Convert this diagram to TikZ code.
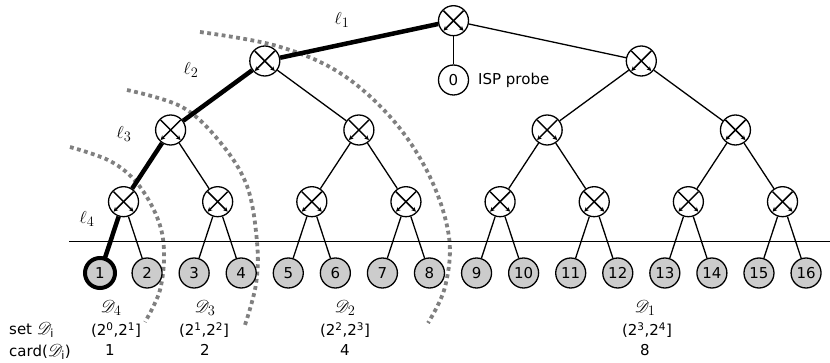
\documentclass[tikz,border=0pt]{standalone}
\usepackage{fontspec}
\usepackage{mathrsfs}
\setmainfont{DejaVu Sans}
\usetikzlibrary{arrows.meta}
\begin{document}
\begin{tikzpicture}[x=1pt,y=-1pt,
  font=\fontsize{15}{18}\selectfont,
  sw/.style={circle,draw,line width=1.3pt,minimum size=30pt,inner sep=0pt,fill=white,
    path picture={
      \draw[line width=1.5pt,-{Stealth[length=4.5pt,width=4.5pt]}]
        ([shift={(-10pt,10pt)}]path picture bounding box.center) -- ([shift={(10pt,-10pt)}]path picture bounding box.center);
      \draw[line width=1.5pt,-{Stealth[length=4.5pt,width=4.5pt]}]
        ([shift={(10pt,10pt)}]path picture bounding box.center) -- ([shift={(-10pt,-10pt)}]path picture bounding box.center);
    }},
  leaf/.style={circle,draw,line width=1.3pt,minimum size=30pt,inner sep=0pt,fill=black!20},
  host/.style={circle,draw,line width=1.3pt,minimum size=30pt,inner sep=0pt,fill=white},
  edge/.style={line width=1.3pt},
  thick path/.style={line width=4.5pt},
  zone/.style={line width=3.8pt,draw=black!50,dash pattern=on 3.8pt off 3.5pt},
  lab/.style={inner sep=0pt},
  mlab/.style={inner sep=0pt,font=\fontsize{19}{22}\selectfont}
]
\useasboundingbox (0,0) rectangle (830,363);

% dotted arcs
\draw[zone] plot[smooth,tension=0.6] coordinates {(70,147) (110,161) (137,183) (157,217) (164,250) (160,290) (145,322)};
\draw[zone] plot[smooth,tension=0.6] coordinates {(127,90) (182,107) (220,142) (247,186) (257,242) (256,284) (245,325)};
\draw[zone] plot[smooth,tension=0.6] coordinates {(200,32) (277,46) (340,73) (393,120) (430,177) (449,237) (445,287) (428,323)};

% horizontal line
\coordinate (hl) at (69,241.7);
\coordinate (hr) at (830,241.7);
\draw[edge] (hl) -- (hr);

% leaves
\foreach \i in {1,...,16} {
  \node[leaf] (l\i) at ({100+47.07*(\i-1)},273) {\i};
}

% level 4
\foreach \j in {1,...,8} {
  \node[sw] (a\j) at ({100+47.07*(2*\j-2)+23.53},201.7) {};
}
% level 3
\foreach \j in {1,...,4} {
  \node[sw] (b\j) at ({100+47.07*(4*\j-4)+70.6},130) {};
}
% level 2
\node[sw] (c1) at (264.8,61) {};
\node[sw] (c2) at (641.3,61) {};
% root
\node[sw] (r) at (453.5,20.7) {};
\node[host] (p) at (453.5,80) {0};
\node[lab,anchor=west] (isp) at (478,80) {ISP probe};

% edges
\draw[edge] (r) -- (p);
\draw[edge] (r) -- (c2);
\draw[thick path] (r) -- (c1);
\draw[edge] (c1) -- (b2);
\draw[thick path] (c1) -- (b1);
\draw[edge] (c2) -- (b3);
\draw[edge] (c2) -- (b4);
\draw[thick path] (b1) -- (a1);
\draw[edge] (b1) -- (a2);
\draw[edge] (b2) -- (a3);
\draw[edge] (b2) -- (a4);
\draw[edge] (b3) -- (a5);
\draw[edge] (b3) -- (a6);
\draw[edge] (b4) -- (a7);
\draw[edge] (b4) -- (a8);
\draw[thick path] (a1) -- (l1);
\draw[edge] (a1) -- (l2);
\foreach \j in {2,...,8} {
  \pgfmathtruncatemacro{\m}{2*\j-1}
  \pgfmathtruncatemacro{\n}{2*\j}
  \draw[edge] (a\j) -- (l\m);
  \draw[edge] (a\j) -- (l\n);
}
% leaf 1 with thick border
\node[leaf,line width=4pt] at (l1) {1};

% link labels
\node[mlab] (e1) at (342,20) {$\ell_1$};
\node[mlab] (e2) at (191,70) {$\ell_2$};
\node[mlab] (e3) at (124,134) {$\ell_3$};
\node[mlab] (e4) at (87,219) {$\ell_4$};

% bottom labels
\node[mlab] (d4) at (111,308) {$\mathscr{D}_4$};
\node[mlab] (d3) at (205,308) {$\mathscr{D}_3$};
\node[mlab] (d2) at (345,308) {$\mathscr{D}_2$};
\node[mlab] (d1) at (645,308) {$\mathscr{D}_1$};
\node[lab] (i4) at (116,330) {(2\textsuperscript{0},2\textsuperscript{1}]};
\node[lab] (i3) at (204,330) {(2\textsuperscript{1},2\textsuperscript{2}]};
\node[lab] (i2) at (345,330) {(2\textsuperscript{2},2\textsuperscript{3}]};
\node[lab] (i1) at (647,330) {(2\textsuperscript{3},2\textsuperscript{4}]};
\node[lab] (k4) at (110,350) {1};
\node[lab] (k3) at (205,350) {2};
\node[lab] (k2) at (345,350) {4};
\node[lab] (k1) at (645,350) {8};
\node[lab,anchor=west] (setl) at (9,330) {set {\fontsize{16}{17}\selectfont$\mathscr{D}_\mathrm{i}$}};
\node[lab,anchor=west] (cardl) at (9,352) {card({\fontsize{16}{17}\selectfont$\mathscr{D}_\mathrm{i}$})};
\end{tikzpicture}
\end{document}
